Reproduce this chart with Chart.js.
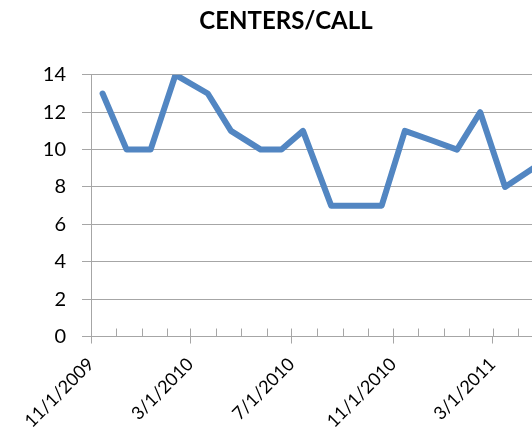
<!DOCTYPE html>
<html>
<head>
<meta charset="utf-8">
<script src="https://cdn.jsdelivr.net/npm/chart.js@4"></script>
<style>
  html, body { margin: 0; padding: 0; background: #fff; overflow: hidden; }
  #wrap { position: absolute; left: 0; top: 0; width: 572px; height: 460px; }
</style>
</head>
<body>
<div id="wrap"><canvas id="chart"></canvas></div>
<script>
const dates = [
  '2009-11-15', '2009-12-14', '2010-01-12', '2010-02-11', '2010-03-22', '2010-04-19',
  '2010-05-25', '2010-06-19', '2010-07-15', '2010-08-18', '2010-09-18', '2010-10-18',
  '2010-11-15', '2010-12-17', '2011-01-17', '2011-02-14', '2011-03-16', '2011-04-19'
];
const centersPerCall = [13, 10, 10, 14, 13, 11, 10, 10, 11, 7, 7, 7, 11, 10.5, 10, 12, 8, 9];
const majorLabels = ['11/1/2009', '3/1/2010', '7/1/2010', '11/1/2010', '3/1/2011', '7/1/2011'];
const yTicks = [0, 2, 4, 6, 8, 10, 12, 14];

const DAY = 86400000;
const origin = Date.UTC(2009, 10, 1);
const toDay = s => (Date.parse(s) - origin) / DAY;
const X_MAX = 576;

const monthTicks = [];
for (let m = 0; m < 20; m++) {
  const d = (Date.UTC(2009, 10 + m, 1) - origin) / DAY;
  if (d <= X_MAX) monthTicks.push(d);
}
const fmt = v => {
  const d = new Date(origin + v * DAY);
  return (d.getUTCMonth() + 1) + '/' + d.getUTCDate() + '/' + d.getUTCFullYear();
};

const GRID = '#a6a6a6';
const FONT = 'Lato';

// short inner tick marks for every month, like the original axis
const minorTicks = {
  id: 'minorTicks',
  afterDraw(chart) {
    const x = chart.scales.x;
    const ctx = chart.ctx;
    ctx.save();
    ctx.strokeStyle = GRID;
    ctx.lineWidth = 1;
    x.ticks.forEach(t => {
      const px = Math.round(x.getPixelForValue(t.value)) + 0.5;
      ctx.beginPath();
      ctx.moveTo(px, x.top);
      ctx.lineTo(px, x.top - 8);
      ctx.stroke();
    });
    ctx.restore();
  }
};

new Chart(document.getElementById('chart').getContext('2d'), {
  type: 'line',
  data: {
    datasets: [{
      label: 'CENTERS/CALL',
      data: dates.map((d, i) => ({ x: toDay(d), y: centersPerCall[i] })),
      borderColor: '#5286c2',
      borderWidth: 6,
      borderJoinStyle: 'round',
      borderCapStyle: 'round',
      pointRadius: 0,
      tension: 0
    }]
  },
  options: {
    responsive: true,
    maintainAspectRatio: false,
    animation: false,
    layout: { padding: { left: 4, right: 4, top: 0, bottom: 18 } },
    plugins: {
      legend: { display: false },
      tooltip: { enabled: false },
      title: {
        display: true,
        text: 'CENTERS/CALL',
        color: '#000',
        font: { family: FONT, size: 24, weight: 'bold' },
        padding: { top: 7, bottom: 39 }
      }
    },
    scales: {
      x: {
        type: 'linear',
        min: 0,
        max: X_MAX,
        afterBuildTicks: scale => {
          scale.ticks = monthTicks.map(v => ({ value: v }));
        },
        grid: {
          drawOnChartArea: false,
          drawTicks: true,
          tickLength: 7,
          color: GRID,
          tickColor: ctx => majorLabels.includes(fmt(ctx.tick.value)) ? GRID : 'rgba(0,0,0,0)'
        },
        border: { color: GRID, width: 1 },
        ticks: {
          autoSkip: false,
          minRotation: 45,
          maxRotation: 45,
          padding: 10,
          color: '#000',
          font: { family: FONT, size: 18 },
          callback: v => {
            const s = fmt(v);
            return majorLabels.includes(s) ? s : '';
          }
        }
      },
      y: {
        min: 0,
        max: 14,
        afterBuildTicks: scale => {
          scale.ticks = yTicks.map(v => ({ value: v }));
        },
        afterFit: scale => {
          scale.width = 87;
        },
        grid: { color: GRID, tickLength: 9, lineWidth: 1 },
        border: { color: GRID, width: 1 },
        ticks: {
          padding: 16,
          color: '#000',
          font: { family: FONT, size: 20 }
        }
      }
    }
  },
  plugins: [minorTicks]
});
</script>
</body>
</html>
